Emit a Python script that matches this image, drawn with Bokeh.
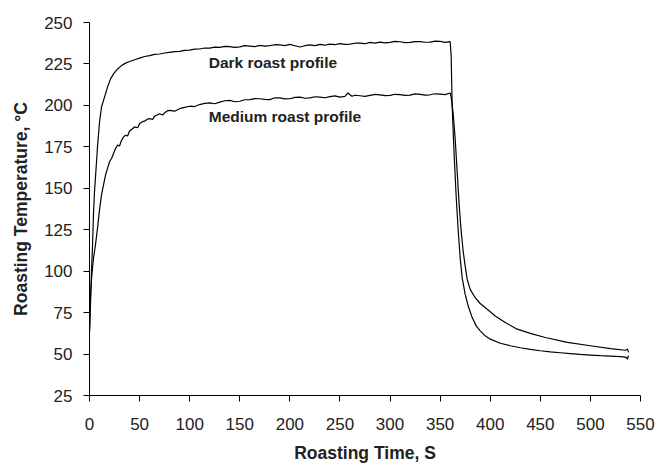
from bokeh.plotting import figure
from bokeh.embed import file_html
from bokeh.resources import INLINE
from bokeh.models import Range1d, FixedTicker, Label

# Dark roast profile (time s, temperature °C)
dark_t = [0, 1, 2, 3, 4, 5, 6, 8, 10, 12, 15, 18, 21, 24, 28, 32, 36, 40, 45, 50,
          55, 60, 65, 70, 75, 80, 85, 90, 95, 100, 105, 110, 115, 120, 125, 130, 135,
          140, 145, 150, 155, 160, 165, 170, 175, 180, 185, 190, 195, 200, 205, 210,
          215, 220, 225, 230, 235, 240, 245, 250, 255, 260, 265, 270, 275, 280, 285,
          290, 295, 300, 305, 310, 315, 320, 325, 330, 335, 340, 345, 350, 355, 360,
          361, 362, 364, 366, 368, 370, 372, 375, 378, 382, 386, 390, 395, 400, 410,
          420, 430, 440, 450, 460, 470, 480, 490, 500, 510, 520, 530, 535, 537, 538]
dark_T = [64, 80, 100, 115, 135, 148, 157, 175, 190, 199, 205, 211, 216, 219, 222, 224,
          225.5, 226.5, 227.5, 228.5, 229.5, 230, 230.8, 231, 231.6, 232, 232.4, 232.6,
          233.2, 233.3, 233.9, 234, 234.6, 234.5, 235.1, 235, 235.6, 235.5, 235.0,
          235.3, 236.0, 235.8, 235.4, 236.2, 235.7, 236, 236.6, 236.5, 236.1, 236.8,
          236, 235.2, 236, 236.5, 236.1, 236.8, 236.3, 237, 236.6, 237.3, 236.8, 237,
          237.5, 237.6, 237.2, 238, 237.6, 238.2, 237.7, 238, 238.6, 238.4, 237.9, 238,
          238.5, 238.5, 238.1, 238.2, 238.8, 238.6, 238, 238.5, 230, 200, 170, 145,
          125, 108, 96, 86, 79, 72, 67, 64, 61, 59, 56.5, 55, 53.8, 52.8, 52, 51.3,
          50.8, 50.3, 49.8, 49.4, 49, 48.7, 48.4, 48.2, 47, 49]

# Medium roast profile
med_t = [0, 1, 2, 3, 4, 5, 6, 8, 10, 12, 14, 16, 18, 20, 22, 24, 26, 28, 30, 32, 34,
         36, 38, 40, 42, 45, 48, 50, 53, 55, 58, 60, 63, 65, 68, 70, 73, 75, 78, 80,
         85, 90, 95, 100, 105, 110, 115, 120, 125, 130, 135, 140, 145, 150, 155, 160,
         165, 170, 175, 180, 185, 190, 195, 200, 205, 210, 215, 220, 225, 230, 235,
         240, 245, 250, 255, 258, 262, 265, 270, 275, 280, 285, 290, 295, 300, 305,
         310, 315, 320, 325, 330, 335, 340, 345, 350, 355, 360, 361, 363, 365, 367,
         369, 371, 373, 375, 377, 380, 385, 390, 397, 405, 415, 427, 440, 455, 477,
         500, 520, 535, 537, 538]
med_T = [63, 85, 95, 102, 108, 112, 116, 126, 137, 146, 152, 158, 162, 166, 168, 171,
         174, 176, 175.5, 179, 181, 182, 181.5, 184.5, 185.5, 187, 186.5, 189, 190.2,
         190.5, 191.8, 192, 191.5, 193.5, 194.4, 195, 194.2, 195.5, 196.8, 197, 196.5,
         198, 198.8, 199.5, 199.3, 200.5, 201.2, 201.5, 201.0, 202, 202.8, 203, 202.2,
         202.5, 203.4, 203.5, 204.1, 204, 203.6, 203.5, 204.6, 204.5, 203.9, 204,
         204.8, 205, 204.3, 204.5, 205.2, 205, 204.6, 205.3, 205.7, 205, 205.4, 207.5,
         205.5, 206.1, 205.8, 205.4, 206, 206.6, 206.3, 205.9, 206, 206.7, 206.5,
         206.0, 206.2, 206.9, 206.6, 206.2, 206.4, 207.0, 206.8, 206.5, 207.5, 205,
         195, 180, 160, 140, 124, 112, 103, 95, 89, 84, 80.5, 77, 73, 69, 65, 62.5,
         60, 57, 55, 53.3, 52.3, 53, 51]

x_ticks = [0, 50, 100, 150, 200, 250, 300, 350, 400, 450, 500, 550]
y_ticks = [25, 50, 75, 100, 125, 150, 175, 200, 225, 250]

FONT = "Liberation Sans"

p = figure(width=658, height=465, output_backend="svg", toolbar_location=None,
           x_range=Range1d(0, 550), y_range=Range1d(25, 250),
           min_border_left=89, min_border_right=18, min_border_top=22,
           min_border_bottom=68)
p.outline_line_color = None
p.grid.visible = False
p.background_fill_color = "white"
p.border_fill_color = "white"

p.line(dark_t, dark_T, line_color="black", line_width=1.2)
p.line(med_t, med_T, line_color="black", line_width=1.2)

for ax in (p.xaxis[0], p.yaxis[0]):
    ax.axis_line_color = "black"
    ax.axis_line_width = 1
    ax.major_tick_line_color = "black"
    ax.major_tick_in = 0
    ax.major_tick_out = 6
    ax.minor_tick_line_color = None
    ax.major_label_text_font = FONT
    ax.major_label_text_font_size = "17px"
    ax.major_label_text_color = "#222222"
    ax.axis_label_text_font = FONT
    ax.axis_label_text_font_size = "17.5px"
    ax.axis_label_text_font_style = "bold"
    ax.axis_label_text_color = "#222222"

p.xaxis.ticker = FixedTicker(ticks=x_ticks)
p.yaxis.ticker = FixedTicker(ticks=y_ticks)
p.xaxis.axis_label = "Roasting Time, S"
p.yaxis.axis_label = "Roasting Temperature, °C"
p.xaxis.major_label_standoff = 16
p.yaxis.major_label_standoff = 11
p.xaxis.axis_label_standoff = 10
p.yaxis.axis_label_standoff = 10

p.add_layout(Label(x=119, y=226, text="Dark roast profile", text_font=FONT,
                   text_font_size="15.5px", text_font_style="bold",
                   text_color="#222222", text_baseline="middle"))
p.add_layout(Label(x=119, y=193, text="Medium roast profile", text_font=FONT,
                   text_font_size="15.5px", text_font_style="bold",
                   text_color="#222222", text_baseline="middle"))

open("out.html", "w").write(file_html(p, INLINE))
